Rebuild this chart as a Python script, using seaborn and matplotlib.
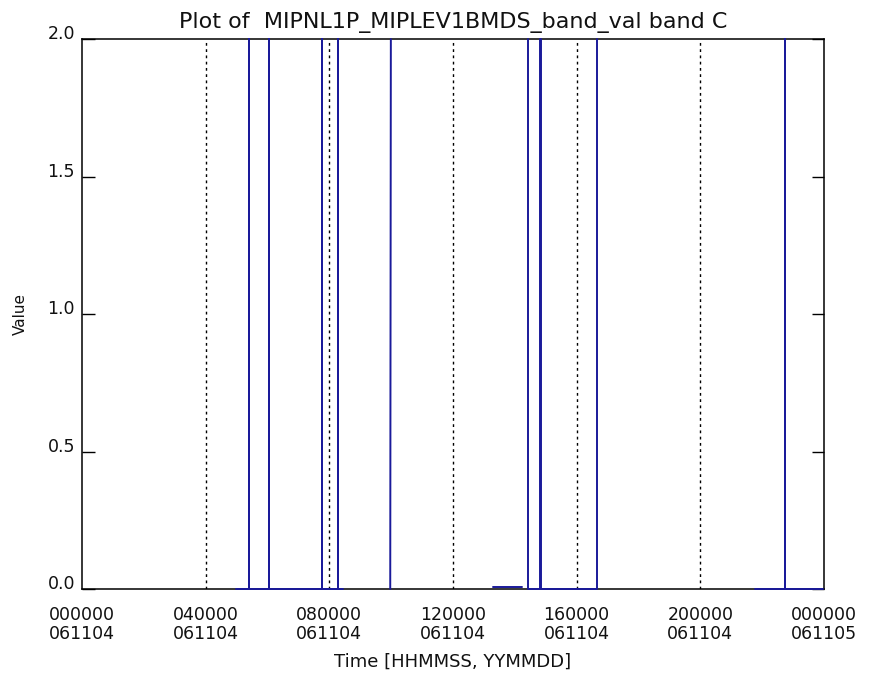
import numpy as np
import pandas as pd
import matplotlib
matplotlib.use("Agg")
import matplotlib.pyplot as plt
import seaborn as sns

# time in hours since 000000 061104, values of band C (spikes reach the top of the scale)
seg_id = [0]*14 + [1]*2 + [2]*2 + [3]*8 + [4]*5
hours = [4.98, 5.40, 5.40, 5.40, 6.05, 6.05, 6.05, 7.76, 7.76, 7.76, 8.28, 8.28, 8.28, 8.44,
         9.97, 9.99,
         13.29, 14.23,
         14.42, 14.42, 14.82, 14.82, 14.85, 14.85, 16.66, 16.66,
         21.77, 22.74, 22.74, 22.74, 23.97]
values = [0, 0, 2, 0, 0, 2, 0, 0, 2, 0, 0, 2, 0, 0,
          0, 2,
          0.008, 0.008,
          2, 0, 0, 2, 2, 0, 0, 2,
          0, 0, 2, 0, 0]

tick_hours = [0, 4, 8, 12, 16, 20, 24]
tick_labels = ["000000\n061104", "040000\n061104", "080000\n061104", "120000\n061104",
               "160000\n061104", "200000\n061104", "000000\n061105"]
y_ticks = [0.0, 0.5, 1.0, 1.5, 2.0]

df = pd.DataFrame({"seg": seg_id, "hours": hours, "value": values})

sns.set_theme(style="white")
plt.rcParams["font.family"] = ["DejaVu Sans"]

fig = plt.figure(figsize=(8.73, 6.75), dpi=100)
ax = fig.add_axes([0.0939, 0.1274, 0.85, 0.8148])

sns.lineplot(data=df, x="hours", y="value", units="seg", estimator=None, sort=False,
             color="#1a1a9a", linewidth=1.4, ax=ax, zorder=3, clip_on=False)

ax.set_xlim(0, 24)
ax.set_ylim(0, 2.0)
ax.set_xticks(tick_hours)
ax.set_xticklabels(tick_labels, fontsize=12.5, linespacing=1.1, color="#111111")
ax.set_yticks(y_ticks)
ax.set_yticklabels([f"{v:.1f}" for v in y_ticks], fontsize=12.5, color="#111111",
                   va="baseline")

for h in tick_hours[1:-1]:
    ax.axvline(h, color="black", linestyle=(0, (2, 2.5)), linewidth=1, zorder=1)

ax.tick_params(axis="y", direction="in", length=9, width=1, left=True, right=True,
               color="black", pad=5)
ax.tick_params(axis="x", length=0, pad=12)
for s in ax.spines.values():
    s.set_color("black")
    s.set_linewidth(1.1)
    s.set_zorder(2)

ax.set_title("Plot of  MIPNL1P_MIPLEV1BMDS_band_val band C", fontsize=16, pad=8,
             color="#111111")
ax.set_xlabel("Time [HHMMSS, YYMMDD]", fontsize=13, labelpad=7, color="#111111")
ax.set_ylabel("Value", fontsize=11, labelpad=14, color="#111111")

fig.savefig("out.png", dpi=100, facecolor="white")
